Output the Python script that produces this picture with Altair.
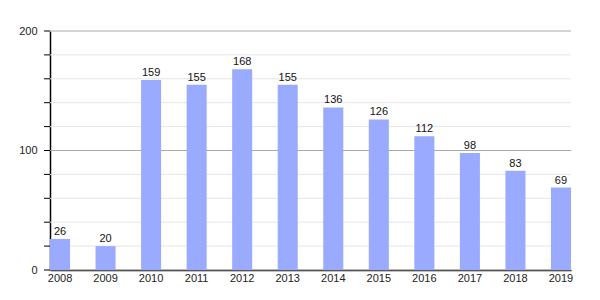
import altair as alt
import pandas as pd

years = ["2008", "2009", "2010", "2011", "2012", "2013", "2014", "2015", "2016", "2017", "2018", "2019"]
values = [26, 20, 159, 155, 168, 155, 136, 126, 112, 98, 83, 69]
minor_ticks = [20, 40, 60, 80, 120, 140, 160, 180]
major_ticks = [0, 100, 200]

df = pd.DataFrame({"year": years, "value": values})
minor_df = pd.DataFrame({"v": minor_ticks})
major_df = pd.DataFrame({"v": major_ticks})
all_df = pd.DataFrame({"v": minor_ticks + major_ticks})

FONT = "Liberation Sans"
yscale = alt.Scale(domain=[0, 200], nice=False)

x = alt.X("year:N", sort=years, title=None,
          scale=alt.Scale(paddingInner=0.56, paddingOuter=0.0),
          axis=alt.Axis(labelAngle=0, ticks=False, domainColor="#000", domainWidth=1.5,
                        labelFont=FONT, labelFontSize=11, labelColor="#222", labelPadding=2))
y = alt.Y("value:Q", title=None, scale=yscale,
          axis=alt.Axis(values=major_ticks, labelOverlap=False, grid=False, ticks=False,
                        domainColor="#000", domainWidth=1.5,
                        labelFont=FONT, labelFontSize=11, labelColor="#222", labelPadding=13))

minor_grid = alt.Chart(minor_df).mark_rule(color="#e6e6e6", strokeWidth=1).encode(
    y=alt.Y("v:Q", scale=yscale), x=alt.value(0), x2=alt.value(521))
major_grid = alt.Chart(major_df).mark_rule(color="#aaaaaa", strokeWidth=1).encode(
    y=alt.Y("v:Q", scale=yscale), x=alt.value(0), x2=alt.value(521))
tick_marks = alt.Chart(all_df).mark_rule(color="#000", strokeWidth=1).encode(
    y=alt.Y("v:Q", scale=yscale), x=alt.value(-6), x2=alt.value(0))

bars = alt.Chart(df).mark_bar(color="#99AAFF").encode(x=x, y=y)
text = alt.Chart(df).mark_text(dy=-7, font=FONT, fontSize=11, color="#111").encode(
    x=alt.X("year:N", sort=years), y="value:Q", text="value:Q")

chart = (minor_grid + major_grid + bars + tick_marks + text).properties(
    width=521, height=239,
    autosize=alt.AutoSizeParams(type="none"),
    padding={"left": 50, "top": 31, "right": 29, "bottom": 30},
).configure_view(stroke=None)

chart.save("out.html", embed_options={"renderer": "svg", "actions": False})
